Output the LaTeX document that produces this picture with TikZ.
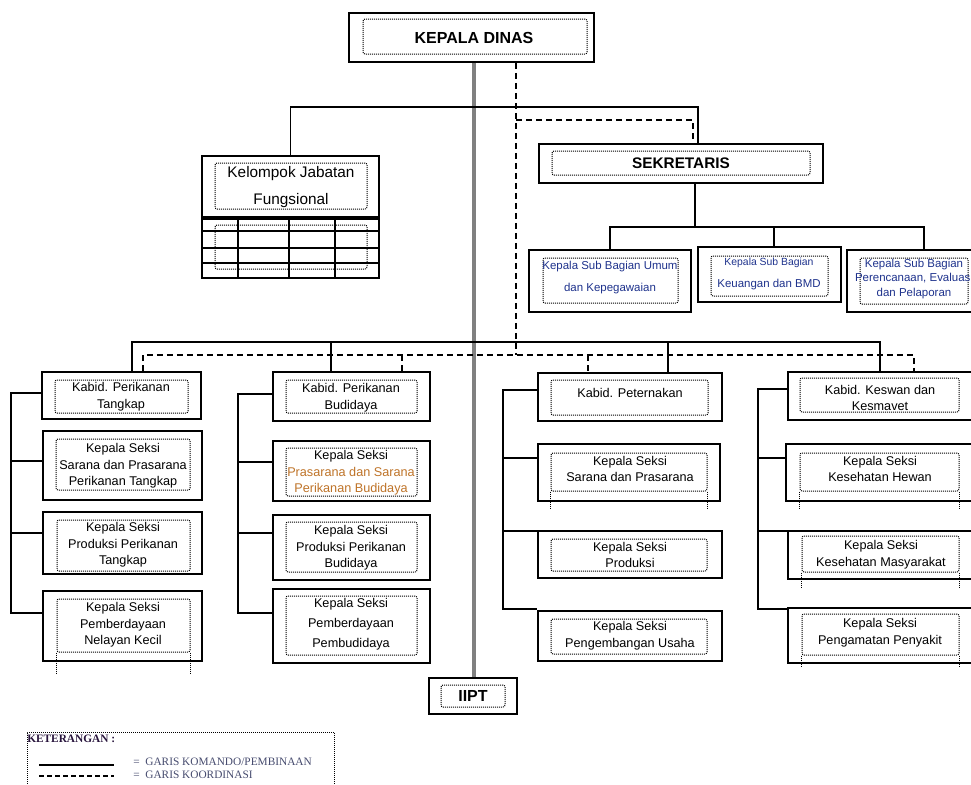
\documentclass[tikz,border=0pt]{standalone}
\usepackage{fontspec}
\setmainfont{Liberation Sans}
\newfontfamily\legfont{Liberation Serif}
\usetikzlibrary{fit}
\definecolor{subblue}{RGB}{30,50,140}
\definecolor{orng}{RGB}{190,115,40}
\definecolor{legcol}{RGB}{70,75,110}
\definecolor{trunkgray}{RGB}{128,128,128}
\tikzset{
  outer/.style={draw, line width=1.2pt, inner sep=0pt},
  inner/.style={draw, line width=0.75pt, dash pattern=on 0.75pt off 0.75pt, rounded corners=1.5pt, inner sep=0pt},
  dotln/.style={line width=0.75pt, dash pattern=on 0.75pt off 0.75pt},
  cmd/.style={line width=1pt},
  koord/.style={line width=1pt, dash pattern=on 4.5pt off 3pt},
  trunk/.style={line width=2.4pt, draw=trunkgray},
  txt/.style={align=center, inner sep=0pt, font=\fontsize{9.5}{12.5}\selectfont},
  subtxt/.style={align=center, inner sep=0pt, text=subblue},
  bigtxt/.style={inner sep=0pt, font=\bfseries\fontsize{12}{14}\selectfont},
  legtxt/.style={anchor=west, inner sep=0pt, text=legcol, font=\legfont\fontsize{8.5}{9}\selectfont}
}
\newcommand{\obx}[5]{\node[outer, fit={(#2,#3) (#4,#5)}] (#1) {};}
\newcommand{\ibx}[5]{\node[inner, fit={(#2,#3) (#4,#5)}] (#1) {};}
\begin{document}
\begin{tikzpicture}[x=0.75pt,y=-0.75pt]
\useasboundingbox (0,0) rectangle (971,785);

% ---------- boxes ----------
% Kepala Dinas
\obx{kd}{349}{13}{594}{62}
\ibx{kdi}{363}{19}{587}{54}
\node[bigtxt] (kdt) at (474,38) {KEPALA DINAS};

% Kelompok Jabatan Fungsional
\obx{kjf}{202}{156}{379}{217}
\ibx{kjfi}{215}{163}{367}{209}
\node[align=center, inner sep=0pt, font=\fontsize{11.5}{20}\selectfont] (kjft) at (291,187) {Kelompok Jabatan\\Fungsional};
\obx{tbl}{202}{219}{379}{278}
\draw[line width=1pt] (202,231) -- (379,231) (202,248) -- (379,248) (202,263) -- (379,263);
\draw[line width=1pt] (238,219) -- (238,278) (289,219) -- (289,278) (335,219) -- (335,278);
\ibx{tbli}{215}{225}{367}{269}

% Sekretaris
\obx{sek}{539}{144}{823}{183}
\ibx{seki}{552}{151}{810}{175}
\node[inner sep=0pt, font=\bfseries\fontsize{11.5}{13}\selectfont] (sekt) at (681,163) {SEKRETARIS};

\obx{sb1}{529}{250}{691}{312}
\ibx{sb1i}{543}{258}{678}{303}
\node[subtxt, font=\fontsize{8.6}{16.5}\selectfont] (sb1t) at (610,278) {Kepala Sub Bagian Umum\\dan Kepegawaian};

\obx{sb2}{698}{247}{841}{302}
\ibx{sb2i}{711}{256}{828}{296}
\node[subtxt, font=\fontsize{8.6}{16}\selectfont] (sb2t) at (769,274) {{\fontsize{7.8}{9}\selectfont Kepala Sub Bagian}\\Keuangan dan BMD};

\obx{sb3}{847}{250}{1000}{312}
\ibx{sb3i}{860}{258}{968}{304}
\node[subtxt, font=\fontsize{8.6}{11}\selectfont] (sb3t) at (914,279) {Kepala Sub Bagian\\Perencanaan, Evaluasi\\dan Pelaporan};

% Kabid row
\obx{k1}{42}{372}{201}{419}
\ibx{k1i}{55}{380}{188}{413}
\node[txt] (k1t) at (121,397) {Kabid. Perikanan\\Tangkap};

\obx{k2}{273}{372}{430}{421}
\ibx{k2i}{286}{380}{417}{413}
\node[txt] (k2t) at (351,398) {Kabid. Perikanan\\Budidaya};

\obx{k3}{538}{373}{722}{421}
\ibx{k3i}{551}{380}{708}{415}
\node[txt] (k3t) at (630,393) {Kabid. Peternakan};

\obx{k4}{788}{372}{1000}{420}
\ibx{k4i}{800}{378}{959}{412}
\node[txt] (k4t) at (880,398) {Kabid. Keswan dan\\Kesmavet};

% Column 1
\obx{s11}{43}{431}{202}{500}
\ibx{s11i}{56}{439}{190}{490}
\node[txt] (s11t) at (123,466) {Kepala Seksi\\Sarana dan Prasarana\\Perikanan Tangkap};
\obx{s12}{43}{512}{202}{574}
\ibx{s12i}{57}{520}{190}{571}
\node[txt] (s12t) at (123,545) {Kepala Seksi\\Produksi Perikanan\\Tangkap};
\obx{s13}{43}{591}{202}{661}
\ibx{s13i}{57}{599}{190}{652}
\node[txt] (s13t) at (123,625) {Kepala Seksi\\Pemberdayaan\\Nelayan Kecil};
\draw[dotln] (s13i.south west) -- ++(0,21) (s13i.south east) -- ++(0,21);

% Column 2
\obx{s21}{273}{441}{430}{501}
\ibx{s21i}{286}{448}{417}{496}
\node[txt] (s21t) at (351,473) {Kepala Seksi\\\textcolor{orng}{Prasarana dan Sarana}\\\textcolor{orng}{Perikanan Budidaya}};
\obx{s22}{273}{515}{430}{580}
\ibx{s22i}{286}{522}{417}{572}
\node[txt] (s22t) at (351,548) {Kepala Seksi\\Produksi Perikanan\\Budidaya};
\obx{s23}{273}{589}{430}{663}
\ibx{s23i}{286}{596}{417}{655}
\node[txt, font=\fontsize{9.5}{15}\selectfont] (s23t) at (351,624) {Kepala Seksi\\Pemberdayaan\\Pembudidaya};

% Column 3
\obx{s31}{538}{444}{720}{501}
\ibx{s31i}{551}{453}{707}{491}
\node[txt] (s31t) at (630,469) {Kepala Seksi\\Sarana dan Prasarana};
\draw[dotln] (s31i.south west) -- ++(0,18) (s31i.south east) -- ++(0,18);
\obx{s32}{538}{531}{722}{578}
\ibx{s32i}{551}{539}{707}{571}
\node[txt] (s32t) at (630,555) {Kepala Seksi\\Produksi};
\obx{s33}{538}{611}{722}{661}
\ibx{s33i}{551}{619}{707}{654}
\node[txt] (s33t) at (630,636) {Kepala Seksi\\Pengembangan Usaha};

% Column 4
\obx{s41}{786}{444}{1000}{501}
\ibx{s41i}{800}{453}{959}{491}
\node[txt] (s41t) at (880,469) {Kepala Seksi\\Kesehatan Hewan};
\draw[dotln] (s41i.south west) -- ++(0,18) (s41i.south east) -- ++(0,18);
\obx{s42}{788}{531}{1000}{579}
\ibx{s42i}{802}{536}{959}{572}
\node[txt] (s42t) at (881,555) {Kepala Seksi\\Kesehatan Masyarakat};
\draw[dotln] (s42i.south west) -- ++(0,16) (s42i.south east) -- ++(0,16);
\obx{s43}{788}{608}{1000}{663}
\ibx{s43i}{802}{614}{959}{655}
\node[txt] (s43t) at (880,633) {Kepala Seksi\\Pengamatan Penyakit};
\draw[dotln] (s43i.south west) -- ++(0,11) (s43i.south east) -- ++(0,11);

% IIPT
\obx{iipt}{429}{678}{517}{714}
\ibx{iipti}{441}{685}{505}{707}
\node[bigtxt] (iiptt) at (473,696) {IIPT};

% ---------- helper coordinates ----------
\coordinate (tx) at (474,0);
\coordinate (dx) at (516,0);
\coordinate (dh) at (516,355);
\coordinate (dsek) at (516,120);
\coordinate (hb) at (0,107);
\coordinate (sx) at (698,0);
\coordinate (sd) at (693,0);
\coordinate (sb) at (695,227);
\coordinate (sb2x) at (774,0);
\coordinate (sb3x) at (924,0);
\coordinate (kb) at (0,342);
\coordinate (k1x) at (132,0);
\coordinate (k2x) at (331,0);
\coordinate (k3x) at (668,0);
\coordinate (k4x) at (880,0);
\coordinate (d1x) at (143,0);
\coordinate (d2x) at (402,0);
\coordinate (d3x) at (588,0);
\coordinate (d4x) at (914,0);

% ---------- connectors ----------
% main command trunk
\draw[trunk] (tx |- kd.south) -- (tx |- iipt.north);
% coordination from Kepala Dinas
\draw[koord] (dx |- kd.south) -- (dh);
\draw[koord] (dsek) -| (sd |- sek.north);
% top bar to Kelompok and Sekretaris
\draw[cmd] (kjf.north) -- (kjf.north |- hb) -- (sx |- hb) -- (sx |- sek.north);
% Sekretaris to sub bagian
\draw[cmd] (sb |- sek.south) -- (sb);
\draw[cmd] (sb1.north) |- (sb3x |- sb) -- (sb3x |- sb3.north);
\draw[cmd] (sb2x |- sb) -- (sb2x |- sb2.north);
% Kabid command bar
\draw[cmd] (k1x |- k1.north) |- (k4x |- kb) -- (k4x |- k4.north);
\draw[cmd] (k2x |- kb) -- (k2x |- k2.north);
\draw[cmd] (k3x |- kb) -- (k3x |- k3.north);
% Kabid coordination bar
\draw[koord] (d1x |- k1.north) |- (d4x |- dh) -- (d4x |- k4.north);
\draw[koord] (d2x |- dh) -- (d2x |- k2.north);
\draw[koord] (d3x |- dh) -- (d3x |- k3.north);

% column brackets
\coordinate (a1) at (11,393); \coordinate (a2) at (11,461); \coordinate (a3) at (11,533); \coordinate (a4) at (11,613);
\draw[cmd] (k1.west |- a1) -- (a1) -- (a4) -- (s13.west |- a4);
\draw[cmd] (a2) -- (s11.west |- a2);
\draw[cmd] (a3) -- (s12.west |- a3);

\coordinate (b1) at (238,394); \coordinate (b2) at (238,462); \coordinate (b3) at (238,533); \coordinate (b4) at (238,613);
\draw[cmd] (k2.west |- b1) -- (b1) -- (b4) -- (s23.west |- b4);
\draw[cmd] (b2) -- (s21.west |- b2);
\draw[cmd] (b3) -- (s22.west |- b3);

\coordinate (c1) at (503,390); \coordinate (c2) at (503,458); \coordinate (c3) at (503,531); \coordinate (c4) at (503,609);
\draw[cmd] (k3.west |- c1) -- (c1) -- (c4) -- (s33.west |- c4);
\draw[cmd] (c2) -- (s31.west |- c2);
\draw[cmd] (c3) -- (s32.west |- c3);

\coordinate (e1) at (758,389); \coordinate (e2) at (758,458); \coordinate (e3) at (758,531); \coordinate (e4) at (758,609);
\draw[cmd] (k4.west |- e1) -- (e1) -- (e4) -- (s43.west |- e4);
\draw[cmd] (e2) -- (s41.west |- e2);
\draw[cmd] (e3) -- (s42.west |- e3);

% ---------- legend ----------
\node[inner sep=0pt, draw, line width=0.75pt, dash pattern=on 0.75pt off 0.75pt, fit={(27,732) (334,795)}] (leg) {};
\node[anchor=west, inner sep=0pt, font=\legfont\bfseries\fontsize{8.5}{9}\selectfont, text={rgb,255:red,40;green,20;blue,60}] (legh) at (27,739) {KETERANGAN :};
\coordinate (l1a) at (39,765); \coordinate (l1b) at (114,765);
\coordinate (l2a) at (39,776); \coordinate (l2b) at (114,776);
\draw[line width=0.9pt] (l1a) -- (l1b);
\draw[line width=0.9pt, dash pattern=on 3.5pt off 2.5pt] (l2a) -- (l2b);
\node[legtxt] (leg1) at (133,762) {=\ \ GARIS KOMANDO/PEMBINAAN};
\node[legtxt] (leg2) at (133,775) {=\ \ GARIS KOORDINASI};
\end{tikzpicture}
\end{document}
